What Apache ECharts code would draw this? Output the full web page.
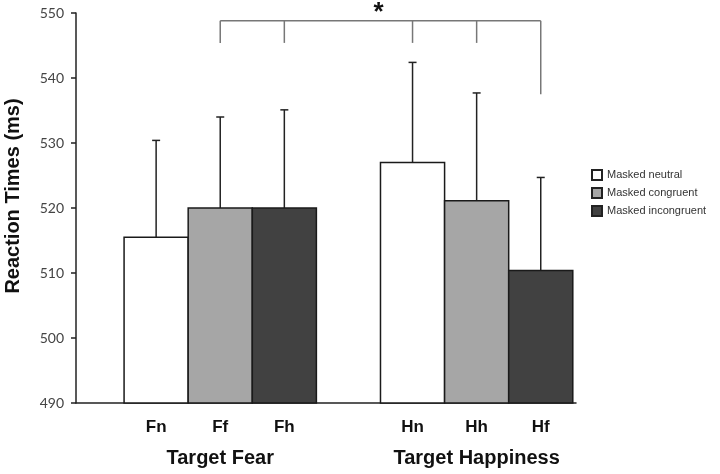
<!DOCTYPE html>
<html>
<head>
<meta charset="utf-8">
<script src="https://cdn.jsdelivr.net/npm/echarts@6/dist/echarts.min.js"></script>
<style>
  html, body { margin: 0; padding: 0; background: #fff; }
  #main { width: 720px; height: 474px; }
</style>
</head>
<body>
<div id="main"></div>
<script>
// data
const groups = ['Target Fear', 'Target Happiness'];
const conditions = ['Masked neutral', 'Masked congruent', 'Masked incongruent'];
const barLabels = [['Fn', 'Hn'], ['Ff', 'Hh'], ['Fh', 'Hf']];
const neutralRT = [515.5, 527.0];
const congruentRT = [520.0, 521.1];
const incongruentRT = [520.0, 510.4];
const neutralErr = [14.9, 15.4];
const congruentErr = [14.0, 16.6];
const incongruentErr = [15.1, 14.3];
const yTicks = [490, 500, 510, 520, 530, 540, 550];

// significance bracket (y in ms)
const bracketTop = 548.8;
const bracketDrops = [545.4, 545.4, 545.4, 545.4, 537.5];
const bracketStar = 550.6;

const fills = ['#ffffff', '#a6a6a6', '#414141'];
const allRT = [neutralRT, congruentRT, incongruentRT];
const allErr = [neutralErr, congruentErr, incongruentErr];

// bar position: group * 4 + condition index (one empty slot between groups)
function barData(c) {
  return allRT[c].map((v, g) => [g * 4 + c, v, allErr[c][g], barLabels[c][g]]);
}

function renderBar(params, api) {
  const x = api.value(0);
  const v = api.value(1);
  const e = api.value(2);
  const p0 = api.coord([x - 0.5, v]);
  const p1 = api.coord([x + 0.5, yTicks[0]]);
  const top = api.coord([x, v + e]);
  const base = api.coord([x, yTicks[0]]);
  const c = params.seriesIndex;
  return {
    type: 'group',
    children: [
      {
        type: 'line',
        shape: { x1: top[0], y1: top[1], x2: top[0], y2: p0[1] },
        style: { stroke: '#222', lineWidth: 1.5 }
      },
      {
        type: 'line',
        shape: { x1: top[0] - 4, y1: top[1], x2: top[0] + 4, y2: top[1] },
        style: { stroke: '#222', lineWidth: 1.5 }
      },
      {
        type: 'rect',
        shape: { x: p0[0], y: p0[1], width: p1[0] - p0[0], height: p1[1] - p0[1] },
        style: { fill: fills[c], stroke: '#1a1a1a', lineWidth: 1.5 }
      },
      {
        type: 'text',
        x: base[0],
        y: base[1] + 24,
        style: {
          text: api.value(3),
          align: 'center',
          verticalAlign: 'middle',
          font: 'bold 17px "Liberation Sans", Arial, sans-serif',
          fill: '#111'
        }
      }
    ]
  };
}

const barSeries = conditions.map((name, c) => ({
  name: name,
  type: 'custom',
  clip: false,
  itemStyle: { color: fills[c], borderColor: '#222', borderWidth: 1 },
  encode: { x: 0, y: 1 },
  data: barData(c),
  renderItem: renderBar
}));

const annotationSeries = {
  type: 'custom',
  clip: false,
  silent: true,
  data: [[0]],
  renderItem: function (params, api) {
    const children = [];
    const xs = [1, 2, 4, 5, 6];
    const left = api.coord([xs[0], bracketTop]);
    const right = api.coord([xs[xs.length - 1], bracketTop]);
    children.push({
      type: 'line',
      shape: { x1: left[0], y1: left[1], x2: right[0], y2: right[1] },
      style: { stroke: '#777', lineWidth: 1.5 }
    });
    xs.forEach((x, i) => {
      const a = api.coord([x, bracketTop]);
      const b = api.coord([x, bracketDrops[i]]);
      children.push({
        type: 'line',
        shape: { x1: a[0], y1: a[1], x2: b[0], y2: b[1] },
        style: { stroke: '#777', lineWidth: 1.5 }
      });
    });
    const star = api.coord([3.47, bracketStar]);
    children.push({
      type: 'text',
      x: star[0],
      y: star[1] + 4,
      style: {
        text: '*',
        align: 'center',
        verticalAlign: 'middle',
        font: 'bold 26px "Liberation Sans", Arial, sans-serif',
        fill: '#111'
      }
    });
    groups.forEach((g, i) => {
      const p = api.coord([i * 4 + 1, yTicks[0]]);
      children.push({
        type: 'text',
        x: p[0],
        y: p[1] + 55,
        style: {
          text: g,
          align: 'center',
          verticalAlign: 'middle',
          font: 'bold 20px "Liberation Sans", Arial, sans-serif',
          fill: '#111'
        }
      });
    });
    return { type: 'group', children: children };
  }
};

const chart = echarts.init(document.getElementById('main'), null, { renderer: 'canvas' });
chart.setOption({
  animation: false,
  backgroundColor: '#fff',
  grid: { left: 76, right: 144, top: 13, bottom: 71, containLabel: false, outerBoundsMode: 'none' },
  legend: {
    data: conditions,
    orient: 'vertical',
    left: 586,
    top: 164,
    icon: 'rect',
    itemWidth: 10,
    itemHeight: 10,
    itemGap: 6,
    selectedMode: false,
    textStyle: { fontSize: 11, color: '#333', fontFamily: '"Liberation Sans", Arial, sans-serif' }
  },
  xAxis: {
    type: 'value',
    min: -1.25,
    max: 6.55,
    axisLine: { show: true, onZero: false, lineStyle: { color: '#222', width: 1.5 } },
    axisTick: { show: false },
    axisLabel: { show: false },
    splitLine: { show: false }
  },
  yAxis: {
    type: 'value',
    min: yTicks[0],
    max: yTicks[yTicks.length - 1],
    interval: 10,
    name: 'Reaction Times (ms)',
    nameLocation: 'middle',
    nameGap: 53,
    nameTextStyle: {
      fontSize: 20,
      fontWeight: 'bold',
      color: '#111',
      fontFamily: '"Liberation Sans", Arial, sans-serif',
      padding: [0, 0, 0, 24]
    },
    axisLine: { show: true, onZero: false, lineStyle: { color: '#222', width: 1.5 } },
    axisTick: { show: true, inside: false, length: 5, lineStyle: { color: '#222', width: 1.5 } },
    axisLabel: { margin: 12, fontSize: 14, color: '#444', fontFamily: 'Lato, sans-serif' },
    splitLine: { show: false }
  },
  series: barSeries.concat([annotationSeries])
});
</script>
</body>
</html>
